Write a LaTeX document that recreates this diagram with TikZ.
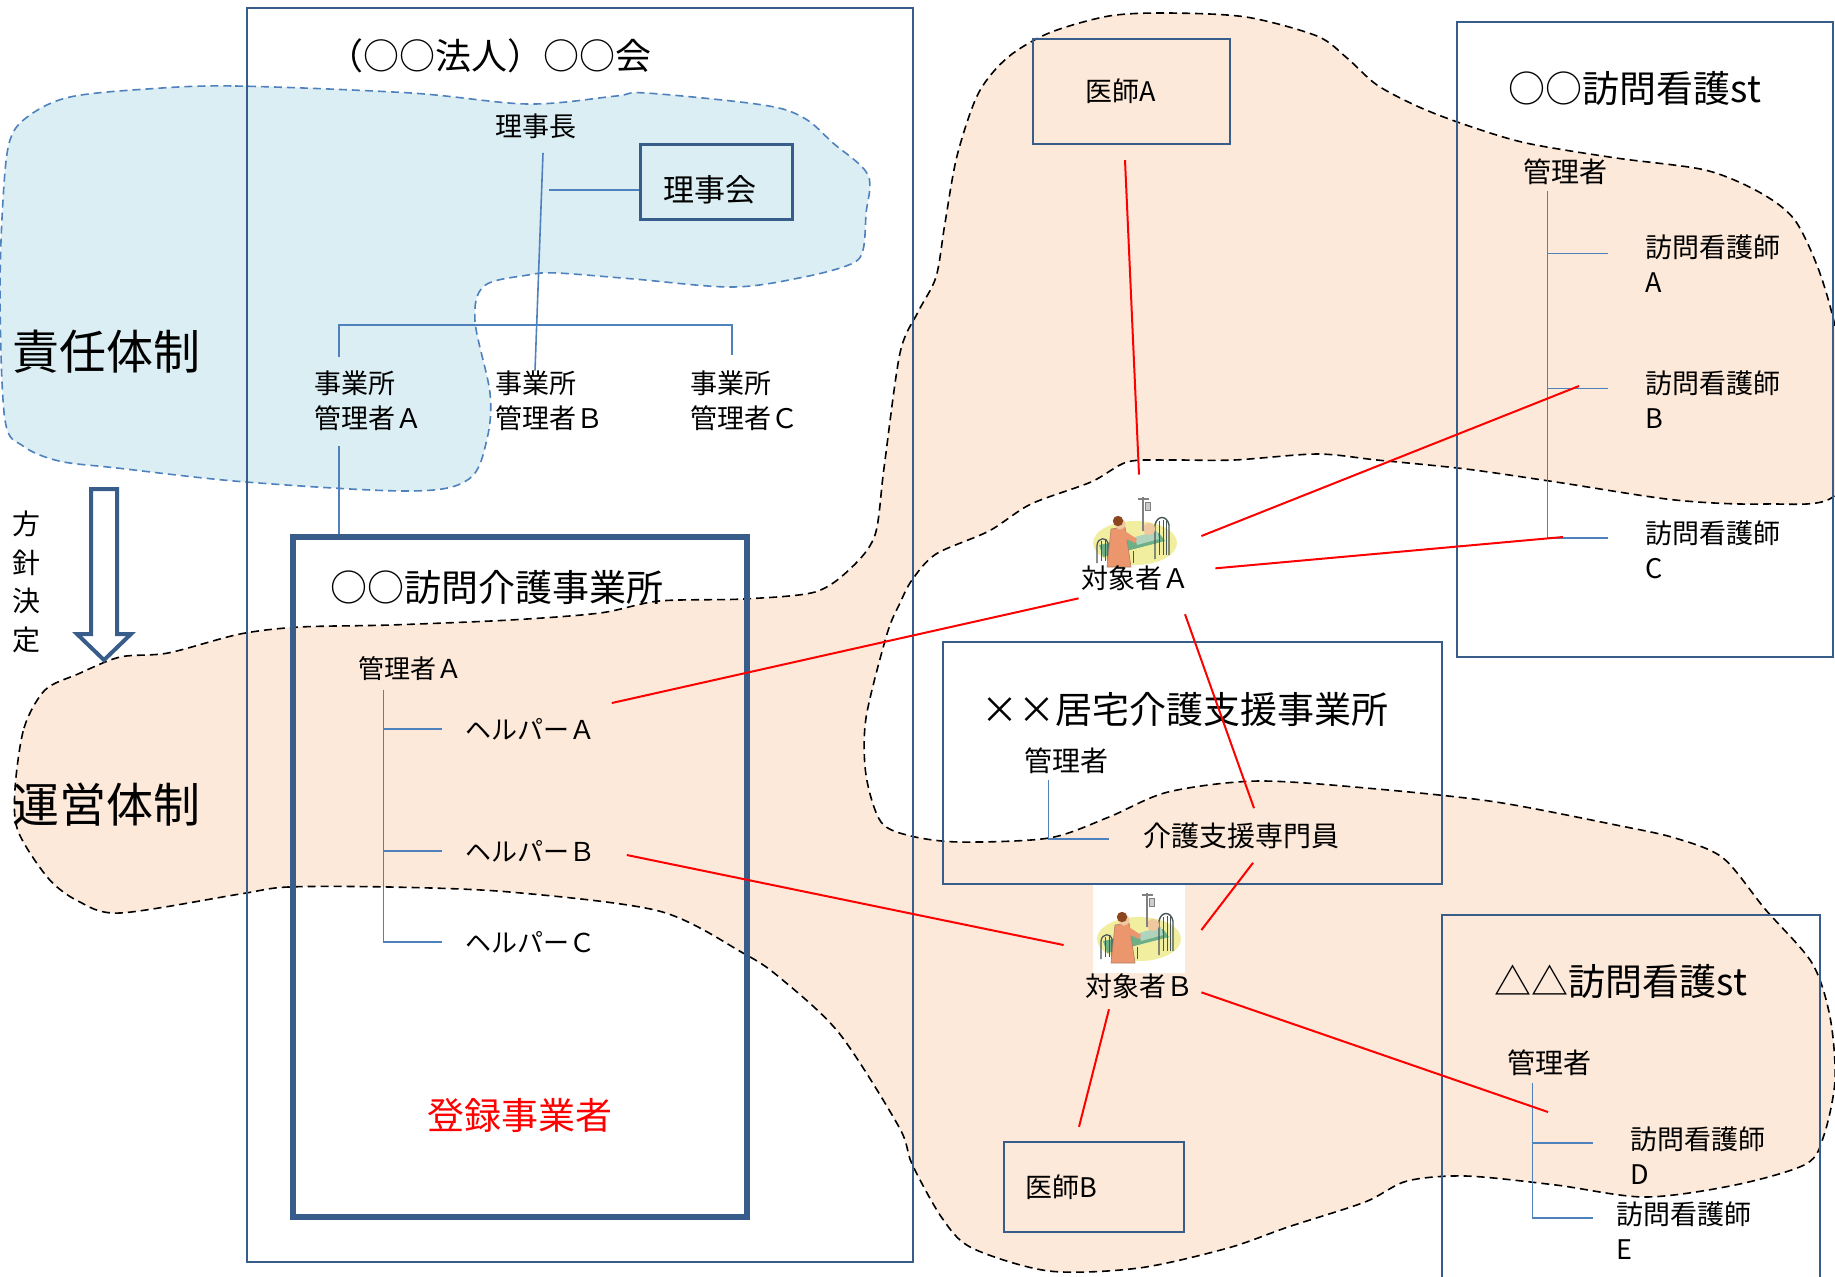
\documentclass[tikz,border=0pt]{standalone}
\usepackage{fontspec}
\setmainfont{Noto Sans CJK JP}
\usetikzlibrary{positioning}

\definecolor{boxblue}{RGB}{56,93,138}
\definecolor{orgblue}{RGB}{79,129,189}
\definecolor{skyfill}{RGB}{219,238,243}
\definecolor{peachfill}{RGB}{253,233,217}
\definecolor{halo}{RGB}{242,238,160}
\definecolor{bedgreen}{RGB}{110,175,135}
\definecolor{bedframe}{RGB}{70,85,85}
\definecolor{nursecoat}{RGB}{236,150,110}
\definecolor{hair}{RGB}{140,70,30}
\definecolor{skin}{RGB}{240,200,160}

% clip-art of a nurse beside a bed
\tikzset{
  patient/.pic={
    \fill[halo] (0,10) ellipse [x radius=21pt, y radius=11pt];
    \fill[bedgreen] (-36,12) -- (24,0) -- (30,8) -- (-32,24) -- cycle;
    \fill[bedgreen!55!white] (0,4) -- (22,-2) -- (24,6) -- (2,12) -- cycle;
    \draw[bedframe, line width=0.6pt] (-38,30) -- (-38,12) .. controls (-37,4) and (-28,4) .. (-27,10) -- (-27,28);
    \draw[bedframe, line width=0.5pt] (-34,8) -- (-34,28) (-30,7) -- (-30,28) (-2,30) -- (-2,18);
    \draw[bedframe, line width=0.7pt] (20,26) -- (20,-8) .. controls (22,-18) and (32,-18) .. (34,-8) -- (34,22);
    \draw[bedframe, line width=0.4pt] (24,-12) -- (24,22) (28,-13) -- (28,22) (31,-12) -- (31,22);
    \fill[skin] (14,-4) circle [radius=3pt];
    \draw[gray, line width=0.6pt] (8,-36) -- (8,-2) (3,-34) -- (14,-34);
    \filldraw[fill=gray!40, draw=gray, line width=0.3pt] (10,-31) rectangle (15,-23);
    \filldraw[fill=nursecoat, draw=hair!70, line width=0.3pt] (-24,-4) -- (-10,-6) -- (-4,34) -- (-28,34) -- cycle;
    \fill[nursecoat] (-10,-2) -- (2,6) -- (0,10) -- (-12,4) -- cycle;
    \fill[skin] (-15,-9) circle [radius=2.8pt];
    \fill[hair] (-17,-12) circle [radius=2.6pt];
  }
}

\begin{document}
\begin{tikzpicture}[
    x=0.5pt, y=-0.5pt,
    every node/.style={inner sep=0pt, align=left},
    box/.style={draw=boxblue, line width=1.2pt},
    thickbox/.style={draw=boxblue, line width=2.8pt},
    org/.style={draw=orgblue, line width=0.8pt},
    link/.style={draw=red, line width=1pt},
    zone/.style={line width=0.8pt, dash pattern=on 4pt off 2.5pt},
    helpertxt/.style={font=\fontsize{13}{17}\selectfont},
    txt/.style={font=\fontsize{13.5}{17.5}\selectfont},
    txtl/.style={font=\fontsize{14}{17.5}\selectfont},
    heading/.style={font=\fontsize{18.5}{22}\selectfont},
    bigtxt/.style={font=\fontsize{23.5}{28}\selectfont}
  ]
  \useasboundingbox (0,0) rectangle (1835,1276);

  % responsibility zone
  \filldraw[zone, draw=orgblue, fill=skyfill] plot[smooth cycle, tension=0.55] coordinates {
    (147,89) (235,86) (411,93) (528,104) (616,96) (646,93) (763,105) (804,118)
    (833,143) (868,175) (866,214) (863,250) (851,264) (804,277) (733,287)
    (634,279) (557,273) (528,275) (484,286) (475,321) (490,393) (487,439)
    (469,479) (411,491) (246,482) (117,468) (59,461) (23,446) (5,420) (0,300)
    (3,200) (10,140) (30,115) (70,97)};

  % operation zone
  \filldraw[zone, draw=black, fill=peachfill] plot[smooth cycle, tension=0.5] coordinates {
    (15,789) (24,728) (45,690) (78,674) (120,657) (168,653) (240,634) (300,627)
    (390,625) (510,620) (600,613) (659,601) (743,599) (815,592) (851,568)
    (875,535) (884,468) (900,353) (918,312) (936,277) (945,223) (957,156)
    (978,94) (1007,58) (1049,33) (1109,16) (1168,13) (1246,17) (1317,36)
    (1347,58) (1377,85) (1419,107) (1466,125) (1526,143) (1616,158) (1705,170)
    (1759,192) (1794,219) (1818,268) (1835,326) (1850,410) (1835,495)
    (1765,504) (1675,500) (1556,482) (1466,469) (1377,460) (1317,454)
    (1234,460) (1168,460) (1127,462) (1091,482) (1031,504) (989,531)
    (936,554) (912,580) (900,603) (887,634) (866,718) (866,775) (881,822)
    (911,836) (960,842) (1049,838) (1109,817) (1168,792) (1258,781)
    (1377,789) (1496,802) (1616,825) (1675,838) (1723,858) (1765,909)
    (1812,963) (1830,1017) (1835,1080) (1824,1135) (1806,1164) (1735,1185)
    (1645,1197) (1556,1185) (1466,1176) (1407,1181) (1365,1202) (1288,1227)
    (1228,1248) (1139,1268) (1049,1271) (972,1248) (942,1218) (912,1164)
    (899,1127) (839,1033) (779,977) (743,953) (659,911) (510,892) (390,887)
    (288,887) (240,894) (120,913) (78,901) (48,878) (18,831)};

  % boxes
  \node[box, minimum width=333pt, minimum height=627pt] (corp) at (580,635) {};
  \node[box, line width=1.5pt, minimum width=76pt, minimum height=37.5pt] (board) at (716,181.5) {};
  \node[font=\fontsize{15.5}{18}\selectfont] (boardtxt) at ([xshift=-3pt,yshift=-4pt]board.center) {理事会};
  \node[thickbox, minimum width=227pt, minimum height=340pt] (office) at (520,877) {};
  \node[box, txt, inner xsep=26pt, text width=46.5pt, minimum height=52.5pt] (docA) at (1131.5,91.5) {医師A};
  \node[box, minimum width=188pt, minimum height=317.5pt] (st1) at (1645,339.5) {};
  \node[box, minimum width=249.5pt, minimum height=121pt] (care) at (1192.5,763) {};
  \node[box, txt, inner xsep=10.5pt, text width=69pt, minimum height=45pt] (docB) at (1094,1187) {医師B};
  \node[box, minimum width=189pt, minimum height=192.5pt] (st2) at (1631,1107.5) {};

  % corporation
  \node[heading, font=\fontsize{18}{22}\selectfont] (corpname) at (489,56) {（○○法人）○○会};
  \node[txt] (chair) at (536,126) {理事長};
  \node[txt, anchor=west] (mgrA) at (314,401) {事業所\\管理者Ａ};
  \node[txt, anchor=west] (mgrB) at (495,401) {事業所\\管理者Ｂ};
  \node[txt, anchor=west] (mgrC) at (690,401) {事業所\\管理者Ｃ};
  \draw[org] ([xshift=3.5pt,yshift=-7pt]chair.south) -- ([xshift=20pt]mgrB.north west);
  \draw[org] ([yshift=-4.25pt]board.west) -- ([xshift=-45pt,yshift=-4.25pt]board.west);
  \draw[org] ([xshift=12.5pt,yshift=6.75pt]mgrA.north west)
    |- ([xshift=21pt,yshift=22.75pt]mgrC.north west)
    -- ([xshift=21pt,yshift=7.75pt]mgrC.north west);
  \draw[org] ([xshift=12.5pt,yshift=-7.25pt]mgrA.south west)
    -- ([xshift=12.5pt]mgrA.south west |- office.north);

  % home help office
  \node[heading] (officename) at (497,587) {○○訪問介護事業所};
  \node[helpertxt] (hmgr) at (410,669) {管理者Ａ};
  \node[helpertxt, anchor=west] (helperA) at (465,729) {ヘルパーＡ};
  \node[helpertxt, anchor=west] (helperB) at (465,851) {ヘルパーＢ};
  \node[helpertxt, anchor=west] (helperC) at (465,942) {ヘルパーＣ};
  \draw[org] ([xshift=13pt,yshift=-4.5pt]hmgr.south west) coordinate (htop)
    |- ([xshift=-11.5pt]helperC.west);
  \draw[org] (htop |- helperA.west) -- ([xshift=-11.5pt]helperA.west);
  \draw[org] (htop |- helperB.west) -- ([xshift=-11.5pt]helperB.west);
  \node[heading, text=red] (reg) at (520,1115) {登録事業者};

  % left side labels
  \node[bigtxt, anchor=west] (resp) at (12,352) {責任体制};
  \node[bigtxt, anchor=west] (ops) at (12,805) {運営体制};
  \node[font=\fontsize{14}{19.25}\selectfont, align=center] (policy) at (26,582) {方\\針\\決\\定};
  \filldraw[draw=boxblue, fill=white, line width=2pt, line join=miter]
    (91,489) -- (91,634) -- (77,634) -- (104,660) -- (131,634) -- (117,634) -- (117,489) -- cycle;

  % first nursing station
  \node[heading] (st1name) at (1635,88) {○○訪問看護st};
  \node[txtl] (s1mgr) at (1565,172) {管理者};
  \node[txt, anchor=west] (nurseA) at (1645,263.5) {訪問看護師\\A};
  \node[txt, anchor=west] (nurseB) at (1645,399.5) {訪問看護師\\B};
  \node[txt, anchor=west] (nurseC) at (1645,550) {訪問看護師\\C};
  \coordinate (tickA) at ([xshift=-18.5pt,yshift=5pt]nurseA.west);
  \coordinate (tickB) at ([xshift=-18.5pt,yshift=5.5pt]nurseB.west);
  \coordinate (tickC) at ([xshift=-18.5pt,yshift=6pt]nurseC.west);
  \draw[org] ([xshift=12.5pt,yshift=-3pt]s1mgr.south west) coordinate (s1top) |- (tickC);
  \draw[org] (s1top |- tickA) -- (tickA);
  \draw[org] (s1top |- tickB) -- (tickB);

  % care management office
  \node[heading] (carename) at (1185,709) {××居宅介護支援事業所};
  \node[txtl] (cmgr) at (1066,761) {管理者};
  \node[txtl] (cm) at (1241,836) {介護支援専門員};
  \draw[org] ([xshift=12.5pt,yshift=-3pt]cmgr.south west) |- ([xshift=-17pt,yshift=-1.5pt]cm.west);

  % second nursing station
  \node[heading] (st2name) at (1621,981) {△△訪問看護st};
  \node[txtl] (s2mgr) at (1549,1063) {管理者};
  \node[txt, anchor=west] (nurseD) at (1630,1156) {訪問看護師\\D};
  \node[txt, anchor=west] (nurseE) at (1616,1231) {訪問看護師\\E};
  \coordinate (tickD) at ([xshift=-18.5pt,yshift=6.5pt]nurseD.west);
  \coordinate (tickE) at ([xshift=-11.5pt,yshift=6.5pt]nurseE.west);
  \draw[org] ([xshift=13pt,yshift=-3.5pt]s2mgr.south west) coordinate (s2top) |- (tickE);
  \draw[org] (s2top |- tickD) -- (tickD);

  % clients
  \node[minimum width=40pt, minimum height=30pt] (patA) at (1135,533) {};
  \pic at (patA) {patient};
  \node[txt, below=1pt of patA] (patAtxt) {対象者Ａ};
  \node[fill=white, minimum width=46pt, minimum height=44pt] (patB) at (1139,929) {};
  \pic at (patB) {patient};
  \node[txt, below=0pt of patB] (patBtxt) {対象者Ｂ};

  % who works with whom
  \draw[link] ([xshift=-3.25pt,yshift=-7.5pt]docA.south) -- ([xshift=2pt,yshift=14pt]patA.north);
  \draw[link] ([xshift=13pt,yshift=-1.5pt]patA.east) -- ([xshift=-33pt,yshift=6.75pt]nurseB.west);
  \draw[link] ([xshift=13pt,yshift=5pt]patAtxt.east) -- ([xshift=-41pt,yshift=6.5pt]nurseC.west);
  \draw[link] ([xshift=-1pt,yshift=-10pt]patAtxt.west) -- ([xshift=8pt,yshift=13pt]helperA.east);
  \draw[link] ([xshift=25pt,yshift=-11.5pt]patAtxt.south) -- ([xshift=6.5pt,yshift=7.25pt]cm.north);
  \draw[link] ([xshift=6pt,yshift=-6.75pt]cm.south) -- ([xshift=8pt,yshift=-0.5pt]patB.east);
  \draw[link] ([xshift=15.5pt,yshift=-2pt]helperB.east) -- ([xshift=-14.5pt,yshift=-8pt]patB.west);
  \draw[link] ([xshift=4pt,yshift=-3pt]patBtxt.east) -- ([xshift=-41pt,yshift=22pt]nurseD.west);
  \draw[link] ([xshift=-15pt,yshift=-5pt]patBtxt.south) -- ([xshift=-7.5pt,yshift=7pt]docB.north);
\end{tikzpicture}
\end{document}
